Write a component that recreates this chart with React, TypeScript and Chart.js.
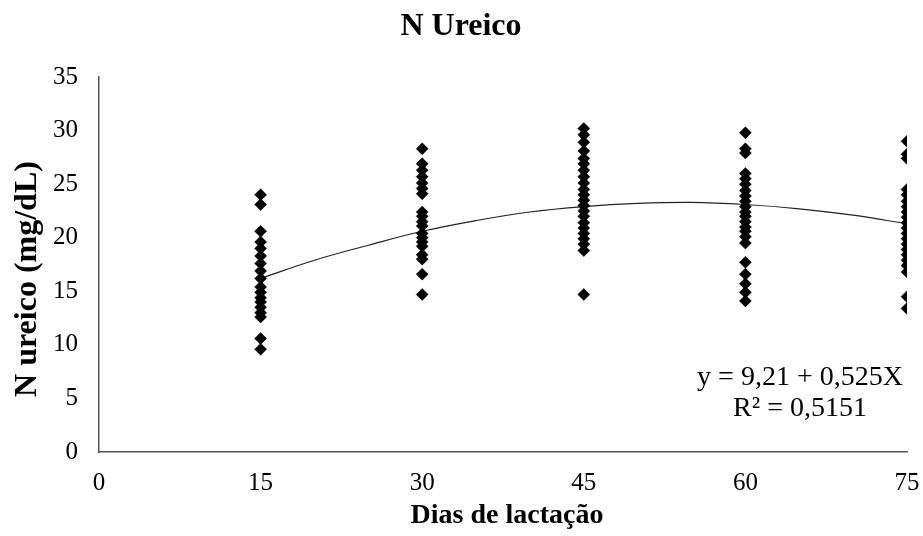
import React, { useEffect, useRef } from "react";
import { Chart, registerables } from "chart.js";

Chart.register(...registerables);

const chartTitle = "N Ureico";
const xAxisTitle = "Dias de lactação";
const yAxisTitle = "N ureico (mg/dL)";
const equationLines = ["y = 9,21 + 0,525X", "R² = 0,5151"];

const days = [15, 30, 45, 60, 75];
const day15 = [24.0, 23.1, 20.6, 19.6, 19.0, 18.3, 17.6, 16.9, 16.2, 15.4, 14.9, 14.4, 14.0, 13.5, 13.0, 12.6, 10.6, 9.6];
const day30 = [28.3, 26.9, 26.3, 25.7, 25.1, 24.6, 24.1, 22.4, 22.0, 21.5, 21.1, 20.4, 20.0, 19.6, 19.2, 18.4, 18.0, 16.6, 14.7];
const day45 = [30.2, 29.6, 28.9, 28.1, 27.4, 26.9, 26.3, 25.7, 25.1, 24.5, 24.0, 23.5, 23.0, 22.5, 22.0, 21.4, 20.9, 20.4, 19.9, 19.4, 18.8, 14.7];
const day60 = [29.8, 28.3, 27.9, 26.0, 25.5, 25.0, 24.4, 23.9, 23.4, 22.9, 22.4, 22.0, 21.5, 21.0, 20.6, 20.1, 19.5, 17.7, 16.6, 15.7, 14.9, 14.1];
const day75 = [29.0, 27.8, 27.4, 24.5, 24.0, 23.4, 22.9, 22.4, 21.9, 21.4, 20.9, 20.4, 19.9, 19.4, 18.9, 18.4, 17.9, 17.4, 16.8, 14.5, 13.4];

const trendX = [15, 20, 25, 30, 35, 40, 45, 50, 55, 60, 65, 70, 75];
const trendY = [16.2, 17.9, 19.3, 20.6, 21.6, 22.4, 22.9, 23.2, 23.3, 23.1, 22.7, 22.1, 21.3];

const xTicks = [0, 15, 30, 45, 60, 75];
const yTicks = [0, 5, 10, 15, 20, 25, 30, 35];

const SERIF = "'Liberation Serif', 'Times New Roman', serif";

export default function App() {
  const canvasRef = useRef<HTMLCanvasElement | null>(null);

  useEffect(() => {
    const canvas = canvasRef.current;
    if (!canvas) return;
    const columns = [day15, day30, day45, day60, day75];
    const scatter: { x: number; y: number }[] = [];
    columns.forEach((col, i) => col.forEach((v) => scatter.push({ x: days[i], y: v })));
    const trend = trendX.map((x, i) => ({ x, y: trendY[i] }));

    const textPlugin = {
      id: "textPlugin",
      afterDraw(chart: any) {
        const ctx = chart.ctx;
        const area = chart.chartArea;
        ctx.save();
        ctx.fillStyle = "#000";
        ctx.textAlign = "center";
        ctx.textBaseline = "middle";
        ctx.font = `bold 32px ${SERIF}`;
        ctx.fillText(chartTitle, 461, 27);
        ctx.font = `bold 28px ${SERIF}`;
        ctx.fillText(xAxisTitle, (area.left + area.right) / 2 + 4, 516);
        ctx.save();
        ctx.translate(28, 279);
        ctx.rotate(-Math.PI / 2);
        ctx.font = `bold 32px ${SERIF}`;
        ctx.fillText(yAxisTitle, 0, 0);
        ctx.restore();
        ctx.font = `28px ${SERIF}`;
        ctx.fillText(equationLines[0], 800, 378);
        ctx.fillText(equationLines[1], 800, 409);
        ctx.restore();
      },
    };

    const chart = new Chart(canvas, {
      type: "scatter",
      data: {
        datasets: [
          {
            type: "line",
            data: trend,
            borderColor: "#222",
            borderWidth: 1.2,
            pointRadius: 0,
            tension: 0.4,
            fill: false,
            order: 2,
          } as any,
          {
            data: scatter,
            pointStyle: "rectRot",
            pointRadius: 6,
            backgroundColor: "#000",
            borderColor: "#000",
            borderWidth: 0.5,
            order: 1,
          },
        ],
      },
      options: {
        animation: false,
        responsive: false,
        maintainAspectRatio: false,
        layout: { padding: { top: 77, right: 16, left: 0, bottom: 0 } },
        plugins: {
          legend: { display: false },
          tooltip: { enabled: false },
          title: { display: false },
        },
        scales: {
          x: {
            type: "linear",
            min: 0,
            max: 75,
            afterBuildTicks: (s: any) => {
              s.ticks = xTicks.map((v) => ({ value: v }));
            },
            afterFit: (s: any) => {
              s.height = 84;
              s.paddingRight = 0;
              s.paddingLeft = 0;
            },
            grid: { display: false, drawTicks: false },
            border: { display: true, color: "#555", width: 1.5 },
            ticks: {
              color: "#000",
              font: { family: SERIF, size: 25 },
              padding: 16,
              maxRotation: 0,
            },
          },
          y: {
            type: "linear",
            min: 0,
            max: 35,
            afterBuildTicks: (s: any) => {
              s.ticks = yTicks.map((v) => ({ value: v }));
            },
            afterFit: (s: any) => {
              s.width = 99;
              s.paddingTop = 0;
              s.paddingBottom = 0;
            },
            grid: { display: false, drawTicks: false },
            border: { display: true, color: "#555", width: 1.5 },
            ticks: {
              color: "#000",
              font: { family: SERIF, size: 25 },
              padding: 21,
            },
          },
        },
      },
      plugins: [textPlugin],
    });
    return () => chart.destroy();
  }, []);

  return (
    <div style={{ position: "fixed", left: 0, top: 0, width: 923, height: 536, background: "#fff" }}>
      <canvas ref={canvasRef} width={923} height={536} style={{ width: 923, height: 536, display: "block" }} />
    </div>
  );
}
